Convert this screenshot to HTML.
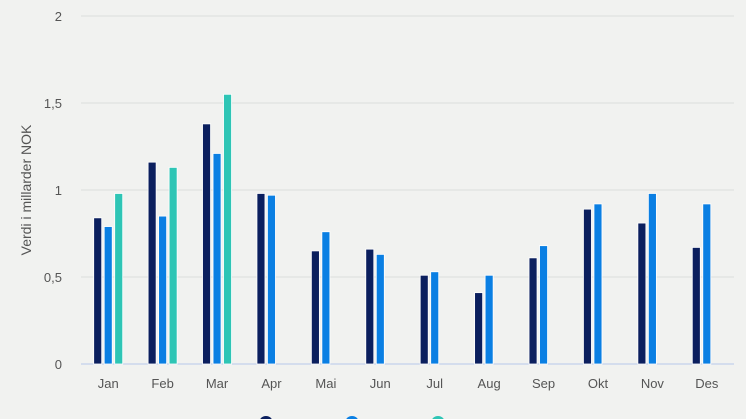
<!DOCTYPE html>
<html><head><meta charset="utf-8"><style>
body{margin:0;background:#f1f2f0;}
svg{display:block;font-family:"Liberation Sans",sans-serif;}
</style></head><body>
<svg id="chart" width="746" height="419">
<rect width="746" height="419" fill="#f1f2f0"/>
<g id="grid"></g><g id="bars"></g><g id="xlabels"></g>
<text transform="translate(31,190) rotate(-90)" text-anchor="middle" font-size="14" fill="#555">Verdi i millarder NOK</text>
<g id="legend"></g>
</svg>
<script>
const categories=["Jan","Feb","Mar","Apr","Mai","Jun","Jul","Aug","Sep","Okt","Nov","Des"];
const s2023=[0.84,1.16,1.38,0.98,0.65,0.66,0.51,0.41,0.61,0.89,0.81,0.67];
const s2024=[0.79,0.85,1.21,0.97,0.76,0.63,0.53,0.51,0.68,0.92,0.98,0.92];
const s2025=[0.98,1.13,1.55,null,null,null,null,null,null,null,null,null];
const seriesNames=["2023","2024","2025"];
const yTicks=[0,0.5,1,1.5,2];
const yTickLabels=["0","0,5","1","1,5","2"];
const colors=["#0b1f5e","#0a7fe3","#2ec5b5"];
const NS="http://www.w3.org/2000/svg";
const x0=81,x1=734,yBase=364,yTop=16,yMax=2;
const y=v=>yBase-(v/yMax)*(yBase-yTop);
const bw=(x1-x0)/categories.length;
const xc=i=>x0+bw*(i+0.5);
function mk(t,a,p){const e=document.createElementNS(NS,t);for(const k in a)e.setAttribute(k,a[k]);p.appendChild(e);return e;}
const grid=document.getElementById('grid');
yTicks.forEach((v,i)=>{
 const l=mk('line',{x1:x0,x2:x1,y1:y(v),y2:y(v),stroke:v===0?'#b8c8ea':'#dcdedd','stroke-width':1},grid);
 
 
 const t=mk('text',{x:62,y:y(v)+5,'text-anchor':'end','font-size':13,fill:'#555'},grid);
 t.textContent=yTickLabels[i];
 
 
});
const bars=document.getElementById('bars');
const all=[s2023,s2024,s2025];
categories.forEach((c,i)=>{
 all.forEach((s,j)=>{
  if(s[i]==null)return;
  const cx=xc(i)+(j-1)*10.5;
  const r=mk('rect',{x:cx-4,y:y(s[i]),width:8,height:yBase-y(s[i]),fill:colors[j],stroke:'#fff','stroke-width':0.8},bars);
  
  
 });
 const t=mk('text',{x:xc(i),y:388,'text-anchor':'middle','font-size':13,fill:'#555'},document.getElementById('xlabels'));
 t.textContent=c;
 
 
});
const lg=document.getElementById('legend');
seriesNames.forEach((n,j)=>{
 const g=mk('g',{},lg);
 
 
 const lx=266+j*86;
 mk('circle',{cx:lx,cy:423,r:7,fill:colors[j]},g);
 const t=mk('text',{x:lx+16,y:429,'font-size':15,'font-weight':'bold',fill:'#333'},g);
 t.textContent=n;
});
</script>
</body></html>
